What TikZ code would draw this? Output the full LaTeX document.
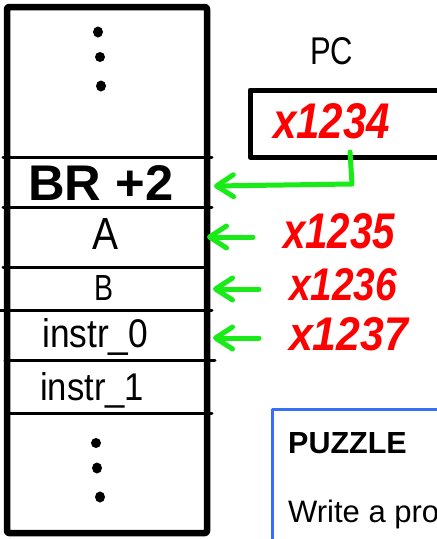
\documentclass[tikz,border=0pt]{standalone}
\usepackage{fontspec}
\usepackage{graphicx}
\setmainfont{Liberation Sans}
\usetikzlibrary{arrows.meta}
\definecolor{hgreen}{RGB}{25,235,25}
\definecolor{hred}{RGB}{255,0,0}
\definecolor{pblue}{RGB}{55,110,250}
\newcommand{\fitbox}[3]{\resizebox{#1pt}{#2pt}{#3}}
\begin{document}
\begin{tikzpicture}[x=1pt,y=-1pt,line join=round,
  divider/.style={line width=3pt,line cap=round},
  cellbox/.style={line width=6.5pt,rounded corners=2pt},
  txt/.style={anchor=base west,inner sep=0pt},
  addr/.style={anchor=base west,inner sep=0pt,text=hred,font=\bfseries\itshape},
  ptr/.style={draw=hgreen,line width=5pt,line cap=round,
    -{Straight Barb[length=17pt,width=22pt,line width=5pt,round]}},
  dot/.style={fill=black,draw=none}]
\useasboundingbox (0,0) rectangle (437,539);
\clip (0,0) rectangle (437,539);
% memory column
\draw[cellbox] (7,7) rectangle (207,533);
\draw[divider] (3,157) -- (212,157);
\draw[divider] (3,207) -- (212,207);
\draw[divider] (3,267) -- (205,267);
\draw[divider] (0,310) -- (212,310);
\draw[divider] (5,360) -- (215,360);
\draw[divider] (8,413) -- (212,413);
% dots
\fill[dot] (98,32) ellipse (5pt and 5.5pt);
\fill[dot] (100,57) ellipse (5pt and 5pt);
\fill[dot] (101,86) ellipse (5pt and 5.5pt);
\fill[dot] (96,443) ellipse (5pt and 5pt);
\fill[dot] (97,468) ellipse (5pt and 5.5pt);
\fill[dot] (100,497) ellipse (5pt and 5.5pt);
% cell contents
\node[txt] (br) at (28,200) {\fitbox{145}{35}{\bfseries BR +2}};
\node[txt] (a) at (92,249) {\fitbox{26}{31}{A}};
\node[txt] (b) at (94,300) {\fitbox{19}{25}{B}};
\node[txt] (i0) at (42,347) {\fitbox{106}{29}{instr\_0}};
\node[txt] (i1) at (40,400) {\fitbox{104}{28}{instr\_1}};
% PC register
\node[txt] (pclabel) at (310,64) {\fitbox{43}{27}{PC}};
\draw[line width=5pt] (250,90) rectangle (450,157);
\node[addr] (pcval) at (273,138) {\fitbox{117}{35}{x1234}};
% addresses
\node[addr] (ad5) at (283,248) {\fitbox{112}{35}{x1235}};
\node[addr] (ad6) at (289,300) {\fitbox{108}{32}{x1236}};
\node[addr] (ad7) at (289,350) {\fitbox{119}{33}{x1237}};
% arrows
\coordinate (pcout) at (350,152);
\coordinate (pcbend) at (352,184);
\coordinate (brtip) at (214,186);
\coordinate (t5) at (253,237);
\coordinate (h5) at (207,237);
\coordinate (t6) at (259,289);
\coordinate (h6) at (213,289);
\coordinate (t7) at (259,338);
\coordinate (h7) at (213,338);
\draw[ptr] (pcout) -- (pcbend) -- (brtip);
\draw[ptr] (t5) -- (h5);
\draw[ptr] (t6) -- (h6);
\draw[ptr] (t7) -- (h7);
% puzzle box
\draw[draw=pblue,line width=3pt] (272,560) |- (470,409);
\node[txt,font=\fontsize{30.5}{32}\selectfont\bfseries] (puzzle) at (288,453) {PUZZLE};
\node[txt,font=\fontsize{31}{33}\selectfont] (write) at (288,522) {Write a pro};
\end{tikzpicture}
\end{document}
